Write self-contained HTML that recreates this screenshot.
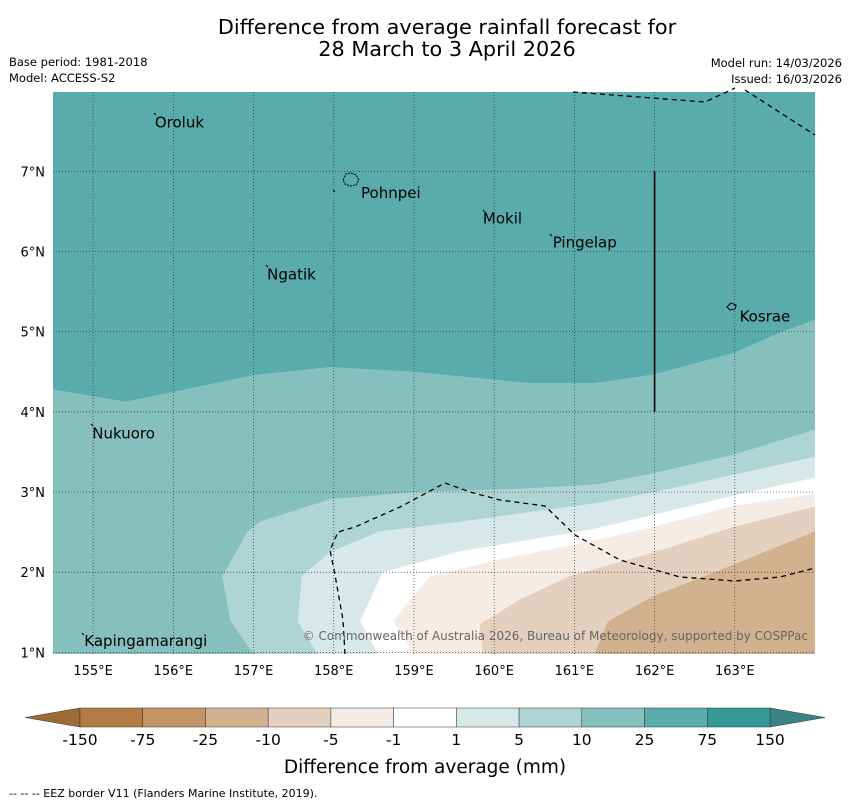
<!DOCTYPE html>
<html><head><meta charset="utf-8"><style>
body{margin:0;background:#fff;font-family:"DejaVu Sans","Liberation Sans",sans-serif;}
svg text{font-family:"DejaVu Sans","Liberation Sans",sans-serif;}
</style></head><body>
<svg id="c" width="850" height="804" viewBox="0 0 850 804" xmlns="http://www.w3.org/2000/svg">
<text x="447" y="34" font-size="20.8" text-anchor="middle">Difference from average rainfall forecast for</text>
<text x="447" y="56" font-size="20.8" text-anchor="middle">28 March to 3 April 2026</text>
<text x="9" y="66" font-size="11.5">Base period: 1981-2018</text>
<text x="9" y="82" font-size="11.5">Model: ACCESS-S2</text>
<text x="842" y="67" font-size="11.5" text-anchor="end">Model run: 14/03/2026</text>
<text x="842" y="83" font-size="11.5" text-anchor="end">Issued: 16/03/2026</text>
<g id="map"></g>
<g id="cbar"></g>
<text x="425" y="773" font-size="18.5" text-anchor="middle">Difference from average (mm)</text>
<text x="9" y="797" font-size="11">-- -- -- EEZ border V11 (Flanders Marine Institute, 2019).</text>
</svg>
<script>
const NS="http://www.w3.org/2000/svg";
const lonTicks=[155,156,157,158,159,160,161,162,163];
const latTicks=[1,2,3,4,5,6,7];
// contour boundaries (lon, lat) from top region downward
const b1Lon=[154.5,155.4,156.0,157.0,157.95,159.01,160.44,161.25,162.0,163.0,163.56,164.0];
const b1Lat=[4.28,4.13,4.25,4.46,4.56,4.50,4.36,4.36,4.47,4.74,4.99,5.15];
const b2Lon=[157.0,156.71,156.61,156.93,157.08,157.95,159.01,160.32,161.32,162.0,163.0,164.0];
const b2Lat=[0.98,1.39,1.95,2.51,2.63,2.91,3.0,3.04,3.10,3.24,3.47,3.78];
const b3Lon=[157.80,157.55,157.60,157.95,158.57,159.57,161.32,162.0,163.0,164.0];
const b3Lat=[0.98,1.39,1.95,2.25,2.51,2.63,2.87,3.0,3.22,3.44];
const b4Lon=[158.55,158.33,158.61,159.57,161.19,162.0,163.0,164.0];
const b4Lat=[0.98,1.39,2.0,2.26,2.53,2.72,2.96,3.18];
const b5Lon=[158.99,158.74,159.2,160.07,161.19,162.0,163.0,164.0];
const b5Lat=[0.98,1.39,1.95,2.16,2.38,2.57,2.83,2.98];
const b6Lon=[159.86,159.82,160.32,160.94,162.0,163.0,164.0];
const b6Lat=[0.98,1.35,1.66,1.95,2.25,2.57,2.82];
const b7Lon=[161.25,161.42,162.0,163.0,164.0];
const b7Lat=[0.98,1.39,1.71,2.10,2.51];
const fills=["#5aabab","#85c0bf","#aed5d4","#d6e9e8","#ffffff","#f5ece6","#e4d0bf","#d2b18f"];
const cbLabels=["-150","-75","-25","-10","-5","-1","1","5","10","25","75","150"];
const cbColors=["#b47c44","#c29466","#d2b18f","#e4d0bf","#f5ece6","#ffffff","#d6e9e8","#aed5d4","#85c0bf","#5aabab","#339a98"];
const islands=[["Oroluk",155.77,7.55],["Pohnpei",158.34,6.67],["Mokil",159.86,6.35],["Pingelap",160.73,6.05],["Ngatik",157.17,5.65],["Kosrae",163.06,5.13],["Nukuoro",154.99,3.67],["Kapingamarangi",154.89,1.08]];

const L=53,R=815,T=92,B=654,lon0=154.5,lon1=164.0,lat0=0.98,lat1=7.99;
const X=v=>L+(v-lon0)/(lon1-lon0)*(R-L);
const Y=v=>B-(v-lat0)/(lat1-lat0)*(B-T);
const map=document.getElementById('map');
function mk(tag,attrs,parent){const e=document.createElementNS(NS,tag);for(const k in attrs)e.setAttribute(k,attrs[k]);(parent||map).appendChild(e);return e;}
function pts(lo,la){return lo.map((v,i)=>X(v)+","+Y(la[i])).join(" ");}
let r=mk('rect',{x:L,y:T,width:R-L,height:B-T,fill:fills[0]});


const bounds=[[b1Lon,b1Lat],[b2Lon,b2Lat],[b3Lon,b3Lat],[b4Lon,b4Lat],[b5Lon,b5Lat],[b6Lon,b6Lat],[b7Lon,b7Lat]];
bounds.forEach((b,i)=>{
  let p=pts(b[0],b[1]);
  if(i===0)p=X(lon0)+","+Y(lat0)+" "+p+" "+X(lon1)+","+Y(lat0);
  else p=p+" "+X(lon1)+","+Y(lat0);
  const e=mk('polygon',{points:p,fill:fills[i+1]});
  
  
});
lonTicks.forEach(v=>{
  const g=mk('line',{x1:X(v),x2:X(v),y1:T,y2:B,stroke:'#333','stroke-width':0.7,'stroke-dasharray':'1,2'});
  
  
  const t=mk('text',{x:X(v),y:675,'font-size':13,'text-anchor':'middle'});
  
  
  t.textContent=v+"°E";
});
latTicks.forEach(v=>{
  const g=mk('line',{x1:L,x2:R,y1:Y(v),y2:Y(v),stroke:'#333','stroke-width':0.7,'stroke-dasharray':'1,2'});
  
  
  const t=mk('text',{x:45,y:Y(v)+5,'font-size':13,'text-anchor':'end'});
  
  
  t.textContent=v+"°N";
});
["573,92 705,102 735,88","745,90 815,135","345,654 343,620 335,575 330,550 338,532 355,527 400,507 445,483 470,492 500,500 545,506 575,535 620,560 680,577 735,581 780,577 815,568"].forEach(p=>{
  const e=mk('polyline',{points:p,fill:'none',stroke:'#000','stroke-width':1.3,'stroke-dasharray':'5,4'});
  
  
});
const sl=mk('line',{x1:X(162),x2:X(162),y1:Y(7),y2:Y(4),stroke:'#000','stroke-width':1.6});


islands.forEach(d=>{
  const t=mk('text',{x:X(d[1]),y:Y(d[2]),'font-size':15});
  
  
  t.textContent=d[0];
});
[[154,113],[266,265],[483,210],[550,234],[91,424],[82,633],[333,190]].forEach(p=>{
  const e=mk('path',{d:`M${p[0]},${p[1]} l2,2`,stroke:'#000','stroke-width':1});
  
  
});
const ip=mk('path',{d:"M343,180 l3,-6 5,-1 5,2 3,5 -3,5 -6,1 -5,-2z",fill:'none',stroke:'#000','stroke-width':1,'stroke-dasharray':'2,1'});


const kp=mk('path',{d:"M727,307 l4,-4 5,2 -1,4 -5,1z",fill:'none',stroke:'#000','stroke-width':1});


const cp=mk('text',{x:808,y:640,'font-size':12,fill:'#666','text-anchor':'end'});


cp.textContent="© Commonwealth of Australia 2026, Bureau of Meteorology, supported by COSPPac";
const cb=document.getElementById('cbar');
const cx0=80,cx1=770,cy=708,ch=19,w=(cx1-cx0)/cbColors.length;
const lt=mk('polygon',{points:`25,${cy+ch/2} ${cx0},${cy} ${cx0},${cy+ch}`,fill:'#9e6a35',stroke:'#333','stroke-width':0.5},cb);


const rt=mk('polygon',{points:`825,${cy+ch/2} ${cx1},${cy} ${cx1},${cy+ch}`,fill:'#3a8584',stroke:'#333','stroke-width':0.5},cb);


cbColors.forEach((c,i)=>{
  const e=mk('rect',{x:cx0+i*w,y:cy,width:w,height:ch,fill:c,stroke:'#333','stroke-width':0.5},cb);
  
  
});
cbLabels.forEach((l,i)=>{
  const t=mk('text',{x:cx0+i*w,y:745,'font-size':15.5,'text-anchor':'middle'},cb);
  
  
  t.textContent=l;
});
</script>
</body></html>
